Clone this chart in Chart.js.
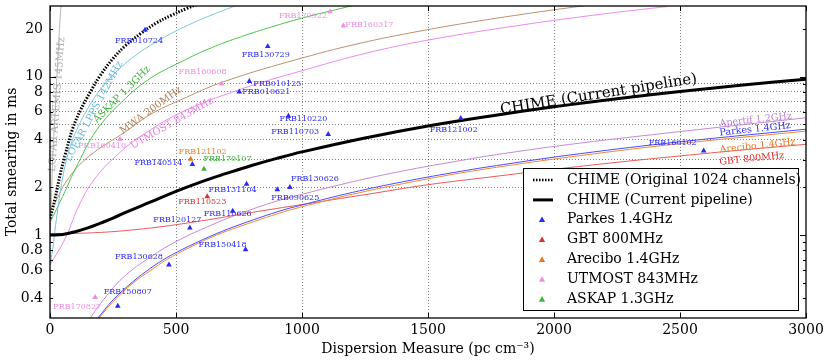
<!DOCTYPE html>
<html>
<head>
<meta charset="utf-8">
<script src="https://cdn.jsdelivr.net/npm/chart.js@4.4.0/dist/chart.umd.min.js"></script>
<style>
  html, body { margin: 0; padding: 0; background: #fff; }
  canvas { display: block; }
</style>
</head>
<body>
<canvas id="chart" width="830" height="363"></canvas>
<script>
// ---- curves (DM in pc cm^-3, smearing in ms) ----
const chimeOrigDM = [0, 20, 40, 60, 90, 120, 160, 200, 250, 300, 360, 420, 480, 540, 600];
const chimeOrigMs = [1.27, 1.7, 2.4, 3.2, 4.7, 6.1, 8.0, 10.2, 13.0, 15.7, 18.7, 21.7, 24.3, 26.8, 29.3];

const chimeNowDM = [0, 50, 100, 150, 200, 250, 300, 400, 500, 600, 700, 800, 900, 1000, 1250, 1500, 1750, 2000, 2250, 2500, 2750, 3000];
const chimeNowMs = [1.0, 1.01, 1.05, 1.11, 1.19, 1.28, 1.39, 1.62, 1.89, 2.17, 2.45, 2.75, 3.05, 3.35, 4.1, 4.88, 5.65, 6.45, 7.25, 8.05, 8.85, 9.62];

const artemisDM = [0, 5, 10, 15, 20, 25, 30, 35, 40, 45];
const artemisMs = [0.9, 1.6, 2.8, 4.2, 5.8, 8.5, 12, 17, 23, 30];

const lppsDM = [0, 10, 25, 50, 75, 100, 150, 200, 270, 350, 450, 550, 650, 750];
const lppsMs = [0.65, 0.8, 1.25, 2.3, 3.4, 4.4, 6.3, 8.3, 11.0, 14.0, 17.6, 21.2, 24.8, 28.5];

const askapDM = [0, 50, 100, 185, 300, 400, 520, 640, 760, 880, 1000, 1110, 1200];
const askapMs = [1.2, 1.75, 2.6, 4.6, 7.3, 9.8, 12.4, 15.2, 17.9, 20.6, 23.4, 25.9, 28];

const mwaDM = [0, 20, 66, 150, 300, 400, 516, 690, 1000, 1250, 1500, 1706, 1865, 2000, 2120];
const mwaMs = [1.45, 1.6, 2.2, 3.1, 4.5, 5.8, 7.1, 9.3, 13.1, 16.5, 19.8, 22.5, 24.6, 26.4, 28];

const utmostDM = [0, 60, 120, 185, 280, 360, 516, 754, 1000, 1250, 1500, 1865, 2200, 2450];
const utmostMs = [0.65, 0.95, 1.6, 2.35, 3.35, 4.2, 5.9, 8.3, 10.9, 14.0, 17.0, 21.1, 24.9, 27.7];

const apertifDM = [160, 200, 290, 400, 500, 620, 750, 900, 1000, 1200, 1400, 1600, 1800, 2100, 2500, 3000];
const apertifMs = [0.3, 0.37, 0.54, 0.73, 0.91, 1.12, 1.36, 1.64, 1.81, 2.17, 2.54, 2.9, 3.27, 3.8, 4.5, 5.5];

const parkesCurveDM = [190, 250, 330, 400, 463, 550, 660, 750, 900, 1000, 1200, 1400, 1600, 1800, 2100, 2500, 3000];
const parkesCurveMs = [0.3, 0.39, 0.51, 0.62, 0.72, 0.85, 1.02, 1.16, 1.4, 1.55, 1.86, 2.17, 2.48, 2.79, 3.26, 3.88, 4.66];

const areciboCurveDM = [195, 250, 330, 400, 463, 550, 660, 750, 900, 1000, 1200, 1400, 1600, 1800, 2100, 2500, 3000];
const areciboCurveMs = [0.3, 0.38, 0.5, 0.6, 0.7, 0.83, 1.0, 1.13, 1.36, 1.51, 1.81, 2.11, 2.42, 2.72, 3.17, 3.78, 4.53];

const gbtCurveDM = [0, 200, 400, 600, 800, 1000, 1250, 1500, 1750, 2000, 2250, 2500, 2750, 3000];
const gbtCurveMs = [1.02, 1.04, 1.11, 1.23, 1.39, 1.56, 1.8, 2.08, 2.33, 2.6, 2.88, 3.16, 3.45, 3.74];

// ---- detected bursts ----
const parkesNames = ['FRB010724', 'FRB130729', 'FRB010125', 'FRB010621', 'FRB110220', 'FRB110703',
  'FRB121002', 'FRB140514', 'FRB131104', 'FRB120127', 'FRB110626', 'FRB150418', 'FRB130628',
  'FRB150807', 'FRB090625', 'FRB130626', 'FRB160102'];
const parkesDM = [377, 864, 791, 751, 946, 1104, 1630, 565, 780, 555, 725, 776, 472, 269, 902, 952, 2594];
const parkesMs = [19.7, 15.5, 9.34, 8.02, 5.64, 4.33, 5.45, 2.8, 2.1, 1.11, 1.42, 0.81, 0.65, 0.357, 1.94, 2.0, 3.4];

const gbtNames = ['FRB110523'];
const gbtDM = [624];
const gbtMs = [1.75];

const areciboNames = ['FRB121102'];
const areciboDM = [558];
const areciboMs = [3.02];

const utmostNames = ['FRB160608', 'FRB160410', 'FRB170827', 'FRB170922', 'FRB160317'];
const utmostPtDM = [681, 278, 179, 1111, 1164];
const utmostPtMs = [9.0, 4.03, 0.405, 25.7, 20.9];

const askapNames = ['FRB170107'];
const askapPtDM = [611];
const askapPtMs = [2.61];

// tick values
const xTickValues = [0, 500, 1000, 1500, 2000, 2500, 3000];
const yTickValues = [0.4, 0.6, 0.8, 1, 2, 3, 4, 5, 6, 7, 8, 9, 10, 20];
const yLabelValues = [0.4, 0.6, 0.8, 1, 2, 4, 6, 8, 10, 20];
const yGridValues = [2, 3, 4, 5, 6, 7, 8, 9];
const yMinorTicks = [0.4, 0.5, 0.6, 0.7, 0.8, 0.9, 2, 3, 4, 5, 6, 7, 8, 9, 20];
const yMajorTicks = [1, 10];

// label placement (pixel offsets from the marker: dx, dy, align)
const parkesLabelAt = [[-6, 11, 'center'], [-2, 8, 'center'], [4, 2.5, 'left'], [3, 0, 'left'],
  [15, 3, 'center'], [-9, -2, 'right'], [-7, 12, 'center'], [-10, -1, 'right'], [-14, 6, 'center'],
  [-12.5, -8, 'center'], [-5, 3, 'center'], [1, -5, 'right'], [-6, -8, 'right'], [10, -14, 'center'],
  [18, 8, 'center'], [25, -8, 'center'], [-31, -8, 'center']];
const gbtLabelAt = [[-5, 5, 'center']];
const areciboLabelAt = [[12, -7, 'center']];
const utmostLabelAt = [[-19, -12, 'center'], [-18, 7, 'center'], [-18, 10, 'center'], [-27, 4, 'center'], [26, -1, 'center']];
const askapLabelAt = [[23.5, -10, 'center']];

const FONT = '"DejaVu Serif", serif';
Chart.defaults.font.family = FONT;
Chart.defaults.color = '#000';

const C = {
  parkes: '#2a2af0', gbt: '#dd3030', arecibo: '#e87a1e', utmost: '#ee8ee0', askap: '#3cb43c',
  parkesLine: '#4a4aff', gbtLine: '#e85a5a', areciboLine: '#f08a30', utmostLine: '#ee88ee',
  askapLine: '#4cc24c', apertif: '#c488d6', lpps: '#7cc6e2', mwa: '#bb9070', artemis: '#b4b4b4'
};

const xy = (xs, ys) => xs.map((x, i) => ({ x, y: ys[i] }));

const curve = (label, xs, ys, color, extra) => Object.assign({
  label, data: xy(xs, ys), borderColor: color, backgroundColor: color, borderWidth: 1,
  pointRadius: 0, tension: 0.4, fill: false, order: 3
}, extra || {});

const marks = (label, xs, ys, color) => ({
  label, data: xy(xs, ys), showLine: false, pointStyle: 'triangle', pointRadius: 3.3,
  backgroundColor: color, borderColor: color, borderWidth: 0, order: 0
});

const surveys = [
  { names: parkesNames, dm: parkesDM, ms: parkesMs, at: parkesLabelAt, color: C.parkes },
  { names: gbtNames, dm: gbtDM, ms: gbtMs, at: gbtLabelAt, color: C.gbt },
  { names: areciboNames, dm: areciboDM, ms: areciboMs, at: areciboLabelAt, color: C.arecibo },
  { names: utmostNames, dm: utmostPtDM, ms: utmostPtMs, at: utmostLabelAt, color: C.utmost },
  { names: askapNames, dm: askapPtDM, ms: askapPtMs, at: askapLabelAt, color: C.askap }
];

// curve annotations, anchored in data units
const curveNotes = [
  { text: 'LOFAR ARTEMIS 145MHz', dm: 27.8, ms: 6.67, angle: -86, color: '#aaaaaa', size: 10 },
  { text: 'LOFAR LPPS 142MHz', dm: 174.6, ms: 6.03, angle: -62, color: '#6cbcdc', size: 10 },
  { text: 'ASKAP 1.3GHz', dm: 285.7, ms: 7.71, angle: -45, color: '#3cb43c', size: 10 },
  { text: 'MWA 200MHz', dm: 400.8, ms: 6.12, angle: -36, color: '#b0845a', size: 10 },
  { text: 'UTMOST 843MHz', dm: 484, ms: 5.07, angle: -30, color: '#e87fe0', size: 10 },
  { text: 'Apertif 1.2GHz', dm: 2800, ms: 5.33, angle: -6, color: '#c080d0', size: 9.5 },
  { text: 'Parkes 1.4GHz', dm: 2798, ms: 4.65, angle: -6, color: '#3030f0', size: 9.5 },
  { text: 'Arecibo 1.4GHz', dm: 2808, ms: 3.65, angle: -6, color: '#e87a1e', size: 9.5 },
  { text: 'GBT 800MHz', dm: 2785, ms: 3.03, angle: -6, color: '#dd3030', size: 9.5 },
  { text: 'CHIME (Current pipeline)', dm: 2177, ms: 7.71, angle: -9, color: '#000', size: 15 }
];

const legendRows = [
  { text: 'CHIME (Original 1024 channels)', kind: 'dotted' },
  { text: 'CHIME (Current pipeline)', kind: 'solid' },
  { text: 'Parkes 1.4GHz', kind: 'tri', color: C.parkes },
  { text: 'GBT 800MHz', kind: 'tri', color: C.gbt },
  { text: 'Arecibo 1.4GHz', kind: 'tri', color: C.arecibo },
  { text: 'UTMOST 843MHz', kind: 'tri', color: C.utmost },
  { text: 'ASKAP 1.3GHz', kind: 'tri', color: C.askap }
];

function tri(ctx, x, y, r, color) {
  ctx.beginPath();
  ctx.moveTo(x, y - r);
  ctx.lineTo(x + r * 0.95, y + r * 0.7);
  ctx.lineTo(x - r * 0.95, y + r * 0.7);
  ctx.closePath();
  ctx.fillStyle = color;
  ctx.fill();
}

const overlay = {
  id: 'overlay',
  afterDatasetsDraw(chart) {
    const { ctx, scales: { x, y } } = chart;
    ctx.save();
    ctx.textBaseline = 'middle';
    curveNotes.forEach(n => {
      ctx.save();
      ctx.translate(x.getPixelForValue(n.dm), y.getPixelForValue(n.ms));
      ctx.rotate(n.angle * Math.PI / 180);
      ctx.font = n.size + 'px ' + FONT;
      ctx.fillStyle = n.color;
      ctx.textAlign = 'center';
      ctx.fillText(n.text, 0, 0);
      ctx.restore();
    });
    ctx.font = '8px ' + FONT;
    surveys.forEach(s => {
      s.names.forEach((name, i) => {
        const [dx, dy, align] = s.at[i];
        ctx.fillStyle = s.color;
        ctx.textAlign = align;
        ctx.fillText(name, x.getPixelForValue(s.dm[i]) + dx, y.getPixelForValue(s.ms[i]) + dy);
      });
    });
    ctx.restore();
  },
  afterDraw(chart) {
    const { ctx, chartArea: a, scales: { x, y } } = chart;
    ctx.save();
    // ticks pointing inward on all four sides
    ctx.strokeStyle = '#000';
    ctx.lineWidth = 1;
    ctx.beginPath();
    xTickValues.forEach(v => {
      const px = Math.round(x.getPixelForValue(v)) + 0.5;
      ctx.moveTo(px, a.bottom); ctx.lineTo(px, a.bottom - 5);
      ctx.moveTo(px, a.top); ctx.lineTo(px, a.top + 5);
    });
    const yTick = (v, len) => {
      const py = Math.round(y.getPixelForValue(v)) + 0.5;
      ctx.moveTo(a.left, py); ctx.lineTo(a.left + len, py);
      ctx.moveTo(a.right, py); ctx.lineTo(a.right - len, py);
    };
    yMajorTicks.forEach(v => yTick(v, 6));
    yMinorTicks.forEach(v => yTick(v, 3));
    ctx.stroke();
    // frame
    ctx.lineWidth = 1.3;
    ctx.strokeRect(a.left, a.top, a.right - a.left, a.bottom - a.top);

    // legend box
    const bx = 523.5, by = 168.5, bw = 275, bh = 142;
    ctx.fillStyle = '#fff';
    ctx.fillRect(bx, by, bw, bh);
    ctx.lineWidth = 1;
    ctx.strokeStyle = '#000';
    ctx.strokeRect(bx, by, bw, bh);
    ctx.font = '14px ' + FONT;
    ctx.textBaseline = 'middle';
    ctx.textAlign = 'left';
    legendRows.forEach((r, i) => {
      const ry = 180 + i * 19.9;
      if (r.kind === 'dotted' || r.kind === 'solid') {
        ctx.save();
        ctx.strokeStyle = '#000';
        ctx.lineWidth = r.kind === 'dotted' ? 2.5 : 3;
        ctx.setLineDash(r.kind === 'dotted' ? [1.5, 1.5] : []);
        ctx.beginPath();
        ctx.moveTo(533, ry); ctx.lineTo(553, ry);
        ctx.stroke();
        ctx.restore();
      } else {
        tri(ctx, 542, ry, 3.3, r.color);
      }
      ctx.fillStyle = '#000';
      ctx.fillText(r.text, 567, ry);
    });
    ctx.restore();
  }
};

const gridColor = 'rgba(0,0,0,0.5)';

new Chart(document.getElementById('chart'), {
  type: 'line',
  data: {
    datasets: [
      marks('Parkes 1.4GHz', parkesDM, parkesMs, C.parkes),
      marks('GBT 800MHz', gbtDM, gbtMs, C.gbt),
      marks('Arecibo 1.4GHz', areciboDM, areciboMs, C.arecibo),
      marks('UTMOST 843MHz', utmostPtDM, utmostPtMs, C.utmost),
      marks('ASKAP 1.3GHz', askapPtDM, askapPtMs, C.askap),
      curve('CHIME (Current pipeline)', chimeNowDM, chimeNowMs, '#000', { borderWidth: 3, order: 1 }),
      curve('CHIME (Original 1024 channels)', chimeOrigDM, chimeOrigMs, '#000', { borderWidth: 3, borderDash: [1.5, 1.5], order: 1 }),
      curve('LOFAR ARTEMIS 145MHz', artemisDM, artemisMs, C.artemis),
      curve('LOFAR LPPS 142MHz', lppsDM, lppsMs, C.lpps),
      curve('ASKAP 1.3GHz curve', askapDM, askapMs, C.askapLine),
      curve('MWA 200MHz', mwaDM, mwaMs, C.mwa),
      curve('UTMOST 843MHz curve', utmostDM, utmostMs, C.utmostLine),
      curve('Apertif 1.2GHz', apertifDM, apertifMs, C.apertif),
      curve('Parkes 1.4GHz curve', parkesCurveDM, parkesCurveMs, C.parkesLine),
      curve('Arecibo 1.4GHz curve', areciboCurveDM, areciboCurveMs, C.areciboLine),
      curve('GBT 800MHz curve', gbtCurveDM, gbtCurveMs, C.gbtLine)
    ]
  },
  options: {
    responsive: false,
    animation: false,
    devicePixelRatio: 1,
    layout: { padding: { top: 6, right: 24, left: 0, bottom: 0 } },
    plugins: { legend: { display: false }, tooltip: { enabled: false } },
    scales: {
      x: {
        type: 'linear',
        min: 0,
        max: 3000,
        afterBuildTicks: s => { s.ticks = xTickValues.map(v => ({ value: v })); },
        afterFit: s => { s.height = 45; s.paddingLeft = 0; s.paddingRight = 0; },
        ticks: { font: { size: 14 }, color: '#000', padding: 4, maxRotation: 0, callback: v => String(v) },
        grid: {
          drawTicks: false,
          lineWidth: 1,
          color: c => (c.tick && c.tick.value > 0 && c.tick.value < 3000) ? gridColor : 'rgba(0,0,0,0)'
        },
        border: { display: false, dash: [1, 2] },
        title: {
          display: true,
          text: 'Dispersion Measure (pc cm\u207B\u00B3)',
          font: { size: 14 },
          color: '#000',
          padding: { top: 0, bottom: 5 }
        }
      },
      y: {
        type: 'logarithmic',
        min: 0.305,
        max: 27.9,
        afterBuildTicks: s => { s.ticks = yTickValues.map(v => ({ value: v })); },
        afterFit: s => { s.width = 50; s.paddingTop = 0; s.paddingBottom = 0; },
        ticks: {
          autoSkip: false,
          font: { size: 14 },
          color: '#000',
          padding: 7,
          callback: v => yLabelValues.includes(v) ? String(v) : ''
        },
        grid: {
          drawTicks: false,
          lineWidth: 1,
          color: c => (c.tick && yGridValues.includes(c.tick.value)) ? gridColor : 'rgba(0,0,0,0)'
        },
        border: { display: false, dash: [1, 2] },
        title: {
          display: true,
          text: 'Total smearing in ms',
          font: { size: 14 },
          color: '#000',
          padding: { top: 4, bottom: 0 }
        }
      }
    }
  },
  plugins: [overlay]
});
</script>
</body>
</html>
